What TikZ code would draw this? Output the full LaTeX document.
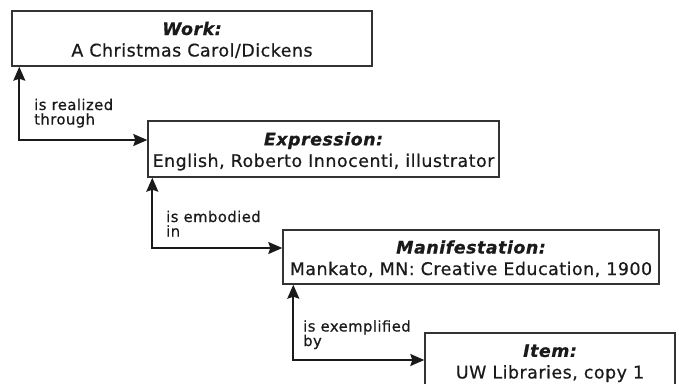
\documentclass[tikz,border=0pt]{standalone}
\usepackage{fontspec}
\setmainfont{DejaVu Sans}[LetterSpace=3,FakeBold=0.6]
\usetikzlibrary{arrows.meta}
\definecolor{ink}{HTML}{1A1A1A}
\definecolor{edge}{HTML}{333333}
\newcommand{\topstrut}{\rule{0pt}{18pt}}
\newcommand{\botstrut}{\rule[-3.5pt]{0pt}{3.5pt}}
\begin{document}
\begin{tikzpicture}[x=1pt,y=-1pt,
  entity/.style={draw=edge,line width=1.4pt,rectangle,inner sep=0pt,align=center,
    text=ink,font=\fontsize{17.4}{21.5}\selectfont},
  link/.style={draw=ink,line width=1.8pt,{Stealth[length=14pt,width=12pt,inset=2pt]}-{Stealth[length=14pt,width=12pt,inset=2pt]}},
  rel/.style={anchor=base west,inner sep=0pt,align=left,text=ink,
    font=\fontsize{14.8}{14.5}\selectfont}]
\useasboundingbox (0,0) rectangle (679,383);
\node[entity,minimum width=360pt,minimum height=55pt] (work) at (192,38.5)
  {\topstrut{\bfseries\itshape Work:}\\A Christmas Carol/Dickens\botstrut};
\node[entity,minimum width=351pt,minimum height=56pt] (expr) at (323.5,149)
  {\topstrut{\bfseries\itshape Expression:}\\English, Roberto Innocenti, illustrator\botstrut};
\node[entity,minimum width=376pt,minimum height=54pt] (manif) at (471,257)
  {\topstrut{\bfseries\itshape Manifestation:}\\Mankato, MN: Creative Education, 1900\botstrut};
\node[entity,minimum width=250pt,minimum height=55pt] (item) at (550,360.5)
  {\topstrut{\bfseries\itshape Item:}\\UW Libraries, copy 1\botstrut};
\draw[link] ([xshift=8pt]work.south west) |- ([yshift=9pt]expr.west);
\draw[link] ([xshift=5pt]expr.south west) |- ([yshift=9pt]manif.west);
\draw[link] ([xshift=11pt]manif.south west) |- ([yshift=0.5pt]item.west);
\node[rel] (l1) at (34,124.5) {is realized\\through};
\node[rel] (l2) at (166,236.5) {is embodied\\in};
\node[rel] (l3) at (303,346) {is exemplified\\by};
\end{tikzpicture}
\end{document}
